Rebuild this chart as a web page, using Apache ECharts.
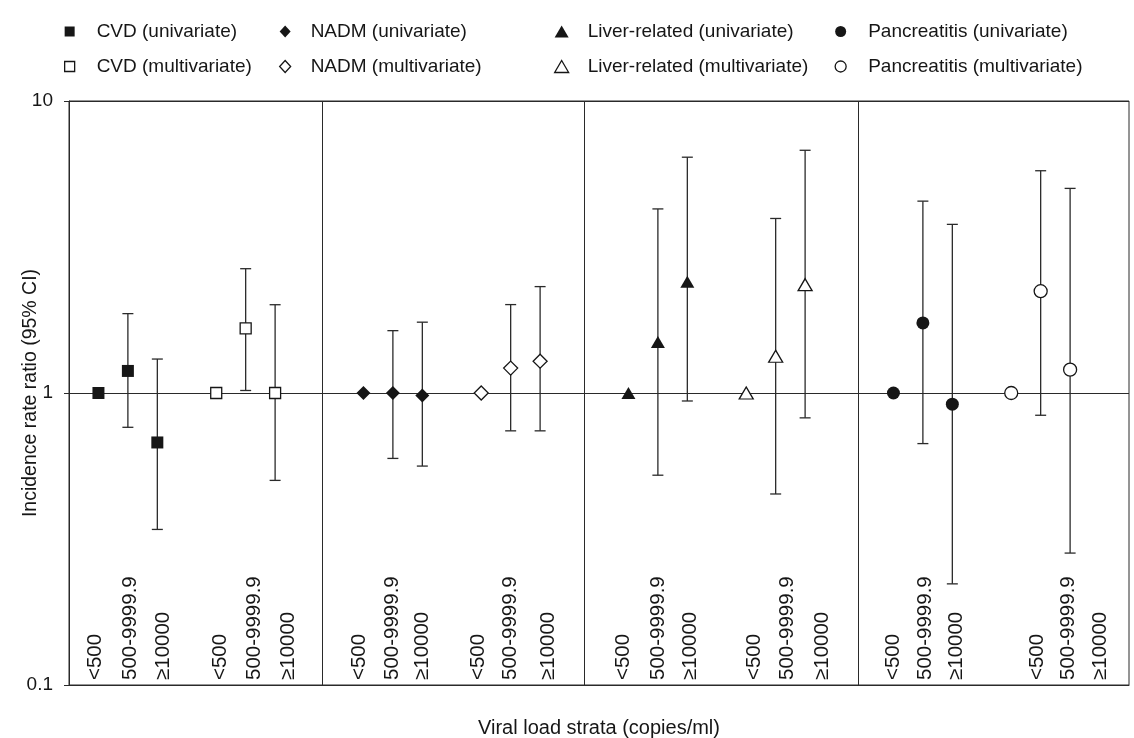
<!DOCTYPE html>
<html><head><meta charset="utf-8">
<script src="https://cdn.jsdelivr.net/npm/echarts@6/dist/echarts.min.js"></script>
<style>html,body{margin:0;padding:0;background:#fff}#c{width:1134px;height:738px}</style>
</head><body><div id="c"></div>
<script>
// ---- data ----
const strata = ['<500', '500-9999.9', '≥10000'];
// x positions (slot units along the horizontal axis)
const cvdPosUni = [1, 2, 3],    cvdPosMulti = [5, 6, 7];
const nadmPosUni = [10, 11, 12], nadmPosMulti = [14, 15, 16];
const liverPosUni = [19, 20, 21], liverPosMulti = [23, 24, 25];
const pancPosUni = [28, 29, 30], pancPosMulti = [32, 33, 34];
const tickPos = [0.88, 2.07, 3.19, 5.13, 6.28, 7.44,
                 9.85, 10.97, 11.99, 13.89, 14.98, 16.27,
                 18.82, 20.0, 21.09, 23.27, 24.38, 25.57,
                 27.98, 29.1, 30.15, 32.88, 33.93, 35.02];
const tickLabels = [].concat(strata, strata, strata, strata, strata, strata, strata, strata);
const panelDividers = [8.6, 17.5, 26.8];
const yTicks = [0.1, 1, 10];

const cvdUni = [1, 1.19, 0.677],  cvdUniLo = [null, 0.763, 0.341],  cvdUniHi = [null, 1.87, 1.307];
const cvdMulti = [1, 1.664, 1.0], cvdMultiLo = [null, 1.02, 0.502], cvdMultiHi = [null, 2.665, 2.006];
const nadmUni = [1, 1.0, 0.98],   nadmUniLo = [null, 0.597, 0.562], nadmUniHi = [null, 1.635, 1.748];
const nadmMulti = [1, 1.217, 1.285], nadmMultiLo = [null, 0.742, 0.742], nadmMultiHi = [null, 2.008, 2.314];
const liverUni = [1, 1.494, 2.406], liverUniLo = [null, 0.523, 0.939], liverUniHi = [null, 4.27, 6.42];
const liverMulti = [1, 1.336, 2.349], liverMultiLo = [null, 0.451, 0.822], liverMultiHi = [null, 3.96, 6.78];
const pancUni = [1, 1.738, 0.916], pancUniLo = [null, 0.671, 0.222], pancUniHi = [null, 4.54, 3.78];
const pancMulti = [1, 2.232, 1.202], pancMultiLo = [null, 0.839, 0.283], pancMultiHi = [null, 5.77, 5.02];

// ---- build ----
const INK = '#161616';
const defs = [
  {name: 'CVD (univariate)', pos: cvdPosUni, v: cvdUni, lo: cvdUniLo, hi: cvdUniHi, sym: 'rect', size: 12, open: false},
  {name: 'CVD (multivariate)', pos: cvdPosMulti, v: cvdMulti, lo: cvdMultiLo, hi: cvdMultiHi, sym: 'rect', size: 11, open: true},
  {name: 'NADM (univariate)', pos: nadmPosUni, v: nadmUni, lo: nadmUniLo, hi: nadmUniHi, sym: 'diamond', size: 14, open: false},
  {name: 'NADM (multivariate)', pos: nadmPosMulti, v: nadmMulti, lo: nadmMultiLo, hi: nadmMultiHi, sym: 'diamond', size: 14, open: true},
  {name: 'Liver-related (univariate)', pos: liverPosUni, v: liverUni, lo: liverUniLo, hi: liverUniHi, sym: 'triangle', size: [14, 12], open: false},
  {name: 'Liver-related (multivariate)', pos: liverPosMulti, v: liverMulti, lo: liverMultiLo, hi: liverMultiHi, sym: 'triangle', size: [14, 12], open: true},
  {name: 'Pancreatitis (univariate)', pos: pancPosUni, v: pancUni, lo: pancUniLo, hi: pancUniHi, sym: 'circle', size: 13, open: false},
  {name: 'Pancreatitis (multivariate)', pos: pancPosMulti, v: pancMulti, lo: pancMultiLo, hi: pancMultiHi, sym: 'circle', size: 13, open: true}
];

const errData = [];
defs.forEach(d => d.pos.forEach((x, i) => { if (d.lo[i] != null) errData.push([x, d.lo[i], d.hi[i]]); }));

function renderErr(params, api) {
  const x = api.value(0), lo = api.value(1), hi = api.value(2);
  const a = api.coord([x, hi]), b = api.coord([x, lo]);
  const w = 5.5;
  const style = {stroke: '#2a2a2a', lineWidth: 1.3, fill: null};
  return {type: 'group', children: [
    {type: 'line', shape: {x1: a[0], y1: a[1], x2: b[0], y2: b[1]}, style},
    {type: 'line', shape: {x1: a[0] - w, y1: a[1], x2: a[0] + w, y2: a[1]}, style},
    {type: 'line', shape: {x1: b[0] - w, y1: b[1], x2: b[0] + w, y2: b[1]}, style}
  ]};
}

const styleOf = d => d.open
  ? {color: '#fff', borderColor: INK, borderWidth: 1.3, opacity: 1}
  : {color: INK, borderWidth: 0, opacity: 1};

const series = [{
  type: 'custom', name: 'ci', renderItem: renderErr, data: errData,
  encode: {x: 0, y: [1, 2]}, z: 2, silent: true,
  markLine: {
    silent: true, symbol: ['none', 'none'], label: {show: false},
    lineStyle: {color: '#2a2a2a', type: 'solid', width: 1},
    data: panelDividers.map(v => ({xAxis: v}))
  }
}].concat(defs.map(d => ({
  type: 'scatter', name: d.name, symbol: d.sym, symbolSize: d.size, z: 3,
  itemStyle: styleOf(d), emphasis: {disabled: true},
  data: d.pos.map((x, i) => [x, d.v[i]])
})));

function legendCol(idxs, left, iw, ih, gap) {
  return {
    orient: 'vertical', left: left, top: 22, padding: 0,
    itemWidth: iw, itemHeight: ih, itemGap: 16, selectedMode: false,
    data: idxs.map(i => ({name: defs[i].name, icon: defs[i].sym, itemStyle: styleOf(defs[i])})),
    formatter: n => '{g| }' + n,
    textStyle: {fontSize: 19, color: INK, rich: {g: {width: gap}}}
  };
}

const option = {
  animation: false,
  textStyle: {fontFamily: 'Liberation Sans, Arial, Helvetica, sans-serif'},
  legend: [
    legendCol([0, 1], 64, 10, 10, 17),
    legendCol([2, 3], 279, 11, 12, 15),
    legendCol([4, 5], 554, 14, 12, 14),
    legendCol([6, 7], 834.5, 11, 11, 17)
  ],
  grid: {left: 69, right: 5, top: 101, bottom: 53, show: true, borderColor: '#2a2a2a', borderWidth: 1,
         outerBoundsMode: 'none', containLabel: false},
  xAxis: {
    type: 'value', min: 0, max: 36,
    name: 'Viral load strata (copies/ml)', nameLocation: 'middle', nameGap: 33, nameMoveOverlap: false,
    nameTextStyle: {fontSize: 20, color: INK},
    axisLine: {show: true, lineStyle: {color: '#2a2a2a'}},
    axisTick: {show: false}, splitLine: {show: false},
    axisLabel: {
      customValues: tickPos, inside: true, rotate: 90, margin: 5,
      fontSize: 20.5, color: INK,
      formatter: v => { const i = tickPos.findIndex(t => Math.abs(t - v) < 1e-6); return i >= 0 ? tickLabels[i] : ''; }
    }
  },
  yAxis: {
    type: 'log', logBase: 10, min: 0.1, max: 10,
    name: 'Incidence rate ratio (95% CI)', nameLocation: 'middle', nameGap: 28, nameRotate: 90,
    nameMoveOverlap: false,
    nameTextStyle: {fontSize: 19.5, color: INK},
    axisLine: {show: true, lineStyle: {color: '#2a2a2a'}},
    axisTick: {show: true, length: 5, lineStyle: {color: '#2a2a2a'}, customValues: yTicks},
    axisLabel: {fontSize: 19, color: INK, margin: 16, customValues: yTicks,
      formatter: v => String(v)},
    splitLine: {show: true, lineStyle: {color: '#2a2a2a', width: 1}}
  },
  series: series
};
const chart = echarts.init(document.getElementById('c'));
chart.setOption(option);
</script></body></html>
